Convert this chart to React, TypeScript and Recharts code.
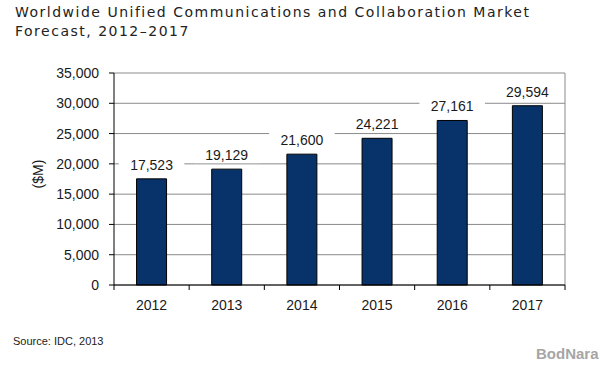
import { Bar, BarChart, CartesianGrid, LabelList, XAxis, YAxis } from "recharts";

const years = ["2012", "2013", "2014", "2015", "2016", "2017"];
const revenue = [17523, 19129, 21600, 24221, 27161, 29594];
const yTicks = [0, 5000, 10000, 15000, 20000, 25000, 30000, 35000];

const data = years.map((year, i) => ({ year, revenue: revenue[i] }));

const FONT = "'Liberation Sans', Arial, sans-serif";
const fmt = (v: number) => Number(v).toLocaleString("en-US");

const ValueLabel = (props: any) => {
	const { x, y, width, value } = props;
	const cx = x + width / 2;
	const by = y - 9;
	const text = fmt(value);
	const w = text.length * 7.6 + 20;
	return (
		<g>
			<rect x={cx - w / 2} y={by - 13} width={w} height={16} fill="#fff" />
			<text x={cx} y={by} textAnchor="middle" fontSize={14} fill="#1a1a1a" fontFamily={FONT}>
				{text}
			</text>
		</g>
	);
};

// label in the middle of the band, tick mark on the band's left edge
const YearTick = (props: any) => {
	const { x, y, payload, index, visibleTicksCount } = props;
	const half = payload.offset || 37.6;
	const axisY = y - 15;
	return (
		<g>
			<line x1={x - half} x2={x - half} y1={axisY} y2={axisY + 5} stroke="#000" />
			{index === visibleTicksCount - 1 && (
				<line x1={x + half} x2={x + half} y1={axisY} y2={axisY + 5} stroke="#000" />
			)}
			<text x={x} y={y} dy="0.71em" textAnchor="middle" fontSize={14} fill="#1a1a1a" fontFamily={FONT}>
				{payload.value}
			</text>
		</g>
	);
};

const AxisTitle = (props: any) => {
	const { viewBox } = props;
	const cx = viewBox.x + 4;
	const cy = viewBox.y + viewBox.height / 2 - 5;
	return (
		<text
			x={cx}
			y={cy}
			transform={`rotate(-90, ${cx}, ${cy})`}
			textAnchor="middle"
			dominantBaseline="central"
			fontSize={14}
			fill="#1a1a1a"
			fontFamily={FONT}
		>
			($M)
		</text>
	);
};

const App = () => {
	return (
		<div style={{ position: "absolute", left: 0, top: 0, width: 600, height: 365, background: "#fff" }}>
			<div
				style={{
					position: "absolute",
					left: 15,
					top: 3,
					fontFamily: "'DejaVu Sans', Verdana, sans-serif",
					fontSize: 14,
					lineHeight: "18.5px",
					letterSpacing: 1.5,
					color: "#222",
					whiteSpace: "nowrap",
				}}
			>
				Worldwide Unified Communications and Collaboration Market
				<br />
				Forecast, 2012–2017
			</div>
			<BarChart
				width={600}
				height={365}
				data={data}
				margin={{ top: 73, right: 35, left: 34, bottom: 50 }}
				barCategoryGap="30%"
			>
				<CartesianGrid
					stroke="#8a8a8a"
					verticalCoordinatesGenerator={({ offset }: any) => [offset.left + offset.width]}
				/>
				<XAxis
					dataKey="year"
					height={30}
					axisLine={{ stroke: "#000" }}
					tickLine={false}
					tickSize={5}
					tickMargin={10}
					tick={<YearTick />}
				/>
				<YAxis
					width={80}
					domain={[0, 35000]}
					ticks={yTicks}
					tickFormatter={fmt}
					axisLine={{ stroke: "#000" }}
					tickLine={{ stroke: "#000" }}
					tickSize={5}
					tickMargin={10}
					tick={{ fontSize: 14, fill: "#1a1a1a", fontFamily: FONT }}
					label={<AxisTitle />}
				/>
				<Bar dataKey="revenue" fill="#07336a" stroke="#000" strokeWidth={1} isAnimationActive={false}>
					<LabelList dataKey="revenue" content={<ValueLabel />} />
				</Bar>
			</BarChart>
			<div
				style={{
					position: "absolute",
					left: 13,
					top: 335,
					fontFamily: FONT,
					fontSize: 11,
					lineHeight: "13px",
					color: "#222",
				}}
			>
				Source: IDC, 2013
			</div>
			<div
				style={{
					position: "absolute",
					left: 536,
					top: 345,
					fontFamily: FONT,
					fontSize: 15,
					fontWeight: "bold",
					lineHeight: "17px",
					color: "#a5a5a5",
				}}
			>
				BodNara
			</div>
		</div>
	);
};

export default App;
